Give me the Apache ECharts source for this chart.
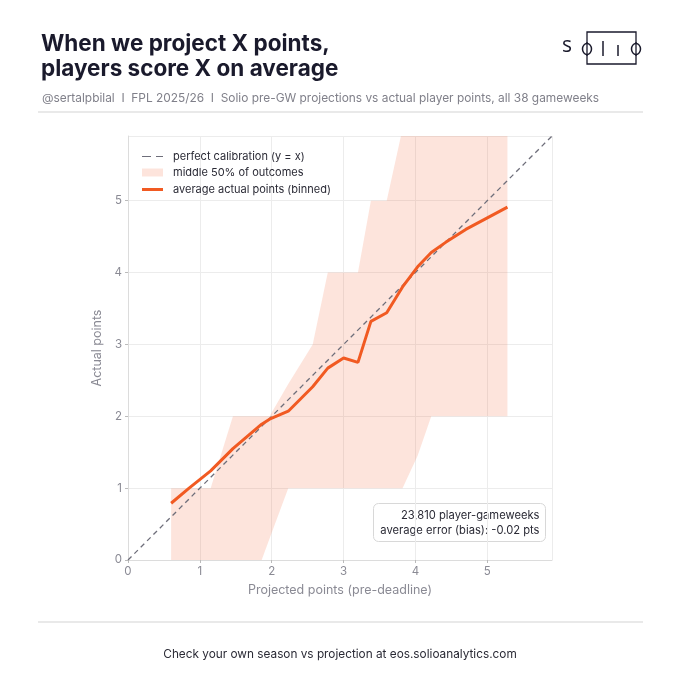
<!DOCTYPE html>
<html>
<head>
<meta charset="utf-8">
<script src="https://cdn.jsdelivr.net/npm/echarts@6/dist/echarts.min.js"></script>
<style>
  html, body { margin: 0; padding: 0; background: #fff; }
  #chart { width: 680px; height: 680px; }
</style>
</head>
<body>
<div id="chart"></div>
<script>
// binned projections (x) and average actual points (y)
const binX = [0.6, 0.85, 1.15, 1.46, 1.86, 1.97, 2.23, 2.57, 2.78, 3.0, 3.2, 3.38, 3.6, 3.82, 4.03, 4.22, 4.42, 4.7, 5.0, 5.28];
const avgActual = [0.79, 1.0, 1.24, 1.55, 1.89, 1.96, 2.07, 2.41, 2.67, 2.81, 2.75, 3.32, 3.44, 3.8, 4.08, 4.28, 4.42, 4.6, 4.76, 4.91];
// middle 50% of outcomes (25th / 75th percentile)
const p25 = [0, 0, 0, 0, 0, 0.3, 1, 1, 1, 1, 1, 1, 1, 1, 1.45, 2, 2, 2, 2, 2];
const p75 = [1, 1, 1, 2, 2, 2, 2.45, 3, 4, 4, 4, 5, 5, 6, 6, 6, 6, 6, 6, 6];
const diag = [0, 5.9];

const axisMax = 5.9;
const orange = '#f15a22';
const bandColor = 'rgba(245,120,80,0.2)';
const dashColor = '#6e6e7a';
const font = 'Inter, "Noto Sans", sans-serif';

const bandData = binX.map((x, i) => [x, p25[i], p75[i]]);
const avgData = binX.map((x, i) => [x, avgActual[i]]);
const diagData = diag.map(v => [v, v]);

const chart = echarts.init(document.getElementById('chart'));

function renderBand(params, api) {
  if (params.dataIndex !== 0) return;
  const top = bandData.map(d => api.coord([d[0], d[2]]));
  const bottom = bandData.map(d => api.coord([d[0], d[1]])).reverse();
  return {
    type: 'polygon',
    shape: { points: top.concat(bottom) },
    style: { fill: bandColor }
  };
}

const legendText = { fontSize: 11, color: '#2a2a35', padding: [0, 0, 0, 5] };

option = {
  backgroundColor: '#fff',
  textStyle: { fontFamily: font },
  animation: false,
  title: [
    {
      text: 'When we project X points,\nplayers score X on average',
      left: 36, top: 27,
      textStyle: { fontSize: 22.5, fontWeight: 'bold', color: '#1a1a2c', lineHeight: 25, fontFamily: font }
    },
    {
      text: '@sertalpbilal  I  FPL 2025/26  I  Solio pre-GW projections vs actual player points, all 38 gameweeks',
      left: 37, top: 87,
      textStyle: { fontSize: 11.9, fontWeight: 'normal', color: '#80808a', fontFamily: font }
    },
    {
      text: 'Check your own season vs projection at eos.solioanalytics.com',
      left: 'center', top: 643,
      textStyle: { fontSize: 11.8, fontWeight: 'normal', color: '#2a2a35', fontFamily: font }
    }
  ],
  graphic: [
    { type: 'line', shape: { x1: 38, y1: 112, x2: 643, y2: 112 }, style: { stroke: '#e2e2e2', lineWidth: 1.5 } },
    { type: 'line', shape: { x1: 38, y1: 622, x2: 643, y2: 622 }, style: { stroke: '#e2e2e2', lineWidth: 1.5 } },
    // logo
    { type: 'text', x: 562, y: 36, style: { text: 's', fontSize: 21, fill: '#1a1a2c', fontFamily: '"Open Sans", sans-serif' } },
    { type: 'rect', shape: { x: 587, y: 32, width: 49, height: 32 }, style: { fill: 'none', stroke: '#1a1a2c', lineWidth: 1.3 } },
    { type: 'ellipse', shape: { cx: 587, cy: 49, rx: 4.5, ry: 5.5 }, style: { fill: '#fff', stroke: '#1a1a2c', lineWidth: 1.5 } },
    { type: 'ellipse', shape: { cx: 636, cy: 49, rx: 4.5, ry: 5.5 }, style: { fill: '#fff', stroke: '#1a1a2c', lineWidth: 1.5 } },
    { type: 'line', shape: { x1: 587, y1: 42, x2: 587, y2: 56 }, style: { stroke: '#1a1a2c', lineWidth: 1.3 } },
    { type: 'line', shape: { x1: 636, y1: 42, x2: 636, y2: 56 }, style: { stroke: '#1a1a2c', lineWidth: 1.3 } },
    { type: 'line', shape: { x1: 603, y1: 41, x2: 603, y2: 56 }, style: { stroke: '#1a1a2c', lineWidth: 1.5 } },
    { type: 'line', shape: { x1: 618, y1: 45, x2: 618, y2: 56 }, style: { stroke: '#1a1a2c', lineWidth: 1.5 } },
    // stats box
    {
      type: 'group', left: 373, top: 503,
      children: [
        { type: 'rect', shape: { x: 0, y: 0, width: 172, height: 38, r: 5 }, style: { fill: 'rgba(255,255,255,0.9)', stroke: '#d8d8d8', lineWidth: 1 } },
        { type: 'text', x: 166, y: 4, style: { text: '23,810 player-gameweeks\naverage error (bias): -0.02 pts', align: 'right', fontSize: 11.2, lineHeight: 15.5, fill: '#2a2a35', fontFamily: font } }
      ]
    }
  ],
  legend: [
    {
      left: 137, top: 146, itemWidth: 21, itemHeight: 1.8, textStyle: legendText,
      data: [{ name: 'perfect calibration (y = x)', icon: 'path://M0,0h9v1h-9zM14,0h7v1h-7z', itemStyle: { color: dashColor } }]
    },
    {
      left: 137, top: 162, itemWidth: 21, itemHeight: 8, textStyle: legendText,
      data: [{ name: 'middle 50% of outcomes', icon: 'rect', itemStyle: { color: bandColor } }]
    },
    {
      left: 137, top: 179, itemWidth: 21, itemHeight: 3, textStyle: legendText,
      data: [{ name: 'average actual points (binned)', icon: 'rect', itemStyle: { color: orange } }]
    }
  ],
  grid: { left: 128, right: 128, top: 136, bottom: 120 },
  xAxis: {
    type: 'value', min: 0, max: axisMax, interval: 1,
    name: 'Projected points (pre-deadline)', nameLocation: 'middle', nameGap: 24,
    nameTextStyle: { color: '#8a8a94', fontSize: 12.5 },
    axisLine: { show: true, lineStyle: { color: '#dcdcdc' } },
    axisTick: { show: true, length: 3, lineStyle: { color: '#bbb' } },
    axisLabel: { color: '#8a8a94', fontSize: 11.5, margin: 6, showMaxLabel: false },
    splitLine: { lineStyle: { color: '#ececec' } }
  },
  yAxis: {
    type: 'value', min: 0, max: axisMax, interval: 1,
    name: 'Actual points', nameLocation: 'middle', nameGap: 22,
    nameTextStyle: { color: '#8a8a94', fontSize: 12.5 },
    axisLine: { show: true, lineStyle: { color: '#dcdcdc' } },
    axisTick: { show: true, length: 3, lineStyle: { color: '#bbb' } },
    axisLabel: { color: '#8a8a94', fontSize: 11.5, margin: 6, showMaxLabel: false },
    splitLine: { lineStyle: { color: '#ececec' } }
  },
  series: [
    {
      name: 'middle 50% of outcomes', type: 'custom', data: bandData,
      renderItem: renderBand, clip: true, itemStyle: { color: bandColor },
      encode: { x: 0, y: [1, 2] }, silent: true, z: 1
    },
    {
      name: 'perfect calibration (y = x)', type: 'line', data: diagData,
      symbol: 'none', itemStyle: { color: dashColor },
      lineStyle: { color: dashColor, width: 1.3, type: [5, 4] }, z: 3
    },
    {
      name: 'average actual points (binned)', type: 'line', data: avgData,
      symbol: 'none', itemStyle: { color: orange },
      lineStyle: { color: orange, width: 3 }, z: 4
    }
  ]
};

chart.setOption(option);
</script>
</body>
</html>
